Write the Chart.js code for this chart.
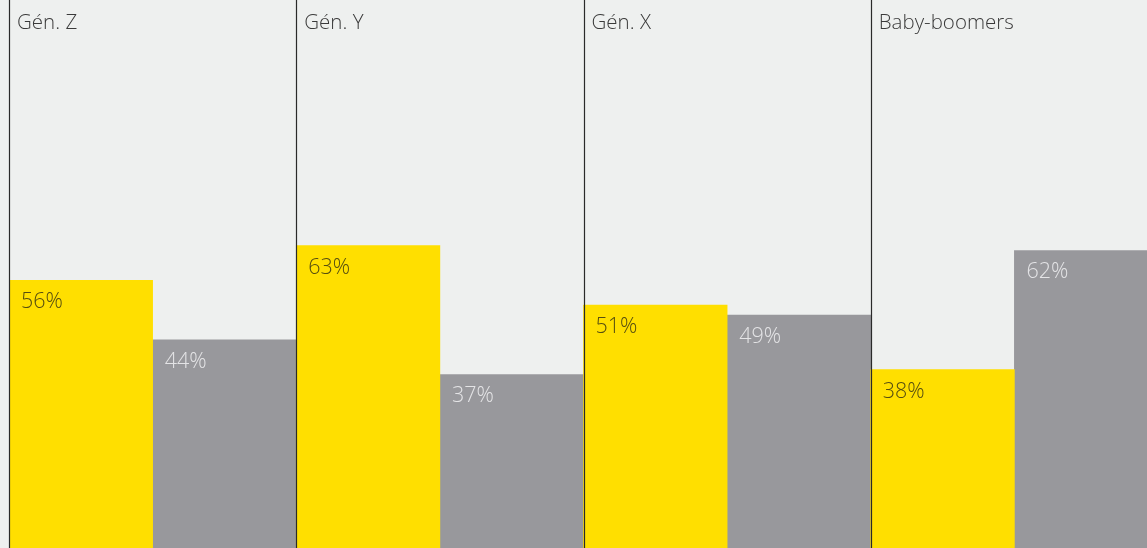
<!DOCTYPE html>
<html><head><meta charset="utf-8">
<script src="https://cdn.jsdelivr.net/npm/chart.js@4"></script>
<style>
html,body{margin:0;padding:0;background:#eef0ef;overflow:hidden;width:1147px;height:548px}
#wrap{position:absolute;left:0;top:0;width:1158px;height:558px}
</style></head><body>
<div id="wrap"><canvas id="c" width="1158" height="558"></canvas></div>
<script>
const categories = ["Gén. Z", "Gén. Y", "Gén. X", "Baby-boomers"];
const seriesA = [56, 63, 51, 38];
const seriesB = [44, 37, 49, 62];
const valueSuffix = "%";

const FONT = '"Open Sans", "DejaVu Sans", sans-serif';

const labelsPlugin = {
  id: 'labels',
  afterDraw(chart) {
    const ctx = chart.ctx;
    const xs = chart.scales.x;
    ctx.save();
    ctx.font = '300 20.5px ' + FONT;
    ctx.fillStyle = '#3a3a3a';
    ctx.textBaseline = 'alphabetic';
    ctx.textAlign = 'left';
    categories.forEach((c, i) => {
      const left = xs.getPixelForValue(i) - (xs.width / categories.length) / 2;
      ctx.fillText(c, left + 8, 29);
    });
    ctx.font = '300 21.5px ' + FONT;
    chart.data.datasets.forEach((ds, di) => {
      const meta = chart.getDatasetMeta(di);
      ctx.fillStyle = di === 0 ? '#564e10' : '#e4e4e6';
      meta.data.forEach((bar, i) => {
        const left = bar.x - bar.width / 2;
        ctx.fillText(ds.data[i] + valueSuffix, left + 12, bar.y + 28);
      });
    });
    ctx.strokeStyle = '#2a2a2a';
    ctx.lineWidth = 1.2;
    for (let i = 0; i < categories.length; i++) {
      const left = Math.round(xs.getPixelForValue(i) - (xs.width / categories.length) / 2) + 0.5;
      ctx.beginPath();
      ctx.moveTo(left, 0);
      ctx.lineTo(left, chart.height);
      ctx.stroke();
    }
    ctx.restore();
  }
};

new Chart(document.getElementById('c'), {
  type: 'bar',
  data: {
    labels: categories,
    datasets: [
      { data: seriesA, backgroundColor: '#ffdf00', borderWidth: 0 },
      { data: seriesB, backgroundColor: '#98989c', borderWidth: 0 }
    ]
  },
  options: {
    responsive: false,
    animation: false,
    devicePixelRatio: 1,
    layout: { padding: { left: 9, right: 0, top: 0, bottom: 0 } },
    datasets: { bar: { categoryPercentage: 1, barPercentage: 1 } },
    plugins: { legend: { display: false }, tooltip: { enabled: false } },
    scales: {
      x: { display: false, grid: { display: false } },
      y: { display: false, min: 0, max: 112.5, grid: { display: false } }
    }
  },
  plugins: [labelsPlugin]
});
</script>
</body></html>
